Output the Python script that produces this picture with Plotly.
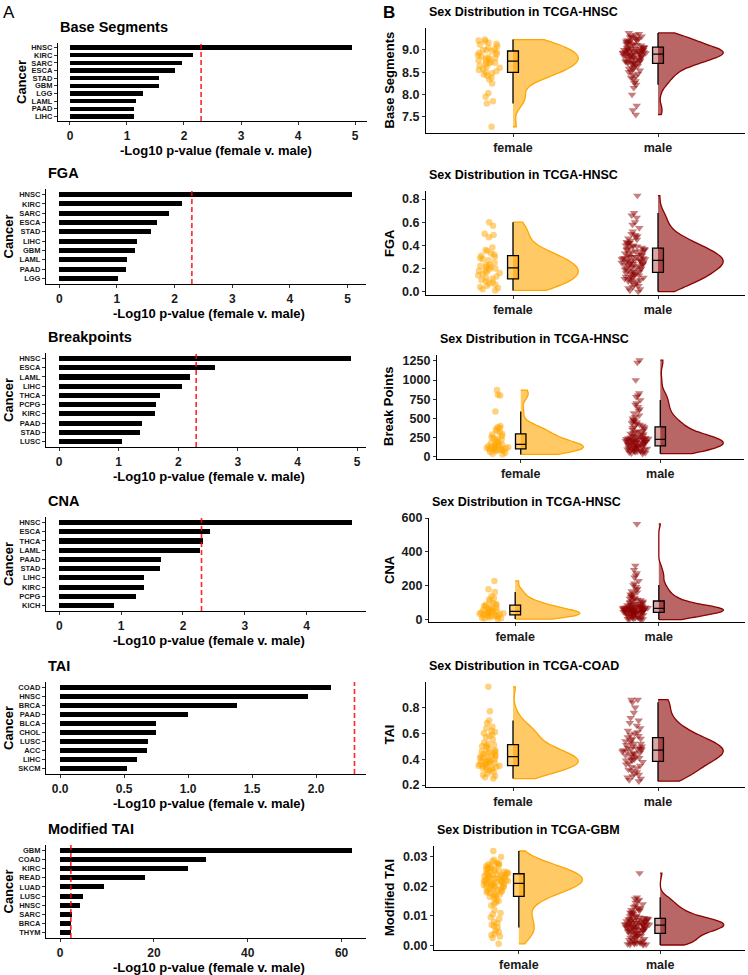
import plotly.graph_objects as go
from plotly.subplots import make_subplots

W, H = 748, 975
THRESHOLD = 2.3
FONT = "Liberation Sans"

# ---- Panel A data: -log10 p-values (female v. male) ----
BS_CANCER = ["HNSC", "KIRC", "SARC", "ESCA", "STAD", "GBM", "LGG", "LAML", "PAAD", "LIHC"]
BS_LOGP = [4.95, 2.16, 1.96, 1.84, 1.56, 1.56, 1.28, 1.15, 1.12, 1.12]

FGA_CANCER = ["HNSC", "KIRC", "SARC", "ESCA", "STAD", "LIHC", "GBM", "LAML", "PAAD", "LGG"]
FGA_LOGP = [5.07, 2.12, 1.91, 1.70, 1.59, 1.34, 1.32, 1.18, 1.16, 1.01]

BP_CANCER = ["HNSC", "ESCA", "LAML", "LIHC", "THCA", "PCPG", "KIRC", "PAAD", "STAD", "LUSC"]
BP_LOGP = [4.90, 2.62, 2.20, 2.06, 1.70, 1.63, 1.61, 1.39, 1.36, 1.06]

CNA_CANCER = ["HNSC", "ESCA", "THCA", "LAML", "PAAD", "STAD", "LIHC", "KIRC", "PCPG", "KICH"]
CNA_LOGP = [4.74, 2.43, 2.33, 2.27, 1.65, 1.63, 1.37, 1.37, 1.24, 0.89]

TAI_CANCER = ["COAD", "HNSC", "BRCA", "PAAD", "BLCA", "CHOL", "LUSC", "ACC", "LIHC", "SKCM"]
TAI_LOGP = [2.12, 1.94, 1.38, 1.00, 0.75, 0.75, 0.69, 0.68, 0.60, 0.52]

MTAI_CANCER = ["GBM", "COAD", "KIRC", "READ", "LUAD", "LUSC", "HNSC", "SARC", "BRCA", "THYM"]
MTAI_LOGP = [62.2, 31.2, 27.3, 18.1, 9.4, 4.9, 4.3, 2.6, 2.4, 2.3]

# ---- Panel B data: per-sample values by sex ----
SEX = ["female", "male"]

BS_F = [9.23, 9.21, 9.19, 9.16, 9.14, 9.12, 9.08, 9.05, 9.02, 9.0, 8.99, 8.97, 8.95, 8.93,
        8.9, 8.88, 8.86, 8.84, 8.82, 8.8, 8.79, 8.77, 8.75, 8.73, 8.71, 8.7, 8.68, 8.65,
        8.62, 8.6, 8.57, 8.55, 8.52, 8.5, 8.48, 8.45, 8.42, 8.38, 8.34, 8.25, 8.03, 7.95,
        7.85, 7.8, 7.28]
BS_M = [9.38, 9.36, 9.34, 9.32, 9.3, 9.29, 9.28, 9.26, 9.25, 9.24, 9.22, 9.21, 9.2, 9.19,
        9.18, 9.17, 9.15, 9.14, 9.13, 9.12, 9.11, 9.1, 9.08, 9.07, 9.06,
        9.05, 9.04, 9.04, 9.03, 9.02, 9.02, 9.01, 9.0, 9.0, 8.99, 8.99, 8.98, 8.97, 8.97,
        8.96, 8.96, 8.95, 8.94, 8.94, 8.93, 8.93, 8.92, 8.92, 8.91, 8.9,
        8.9, 8.89, 8.88, 8.88, 8.87, 8.86, 8.85, 8.85, 8.84, 8.83, 8.82, 8.81, 8.8, 8.79,
        8.78, 8.77, 8.76, 8.75, 8.74, 8.73, 8.72, 8.72, 8.71, 8.7, 8.7,
        8.68, 8.66, 8.64, 8.62, 8.6, 8.58, 8.56, 8.54, 8.52, 8.5, 8.47, 8.44, 8.41, 8.38,
        8.35, 8.3, 8.26, 8.22, 8.15, 8.0, 7.75, 7.65, 7.55]

FGA_F = [0.60, 0.57, 0.50, 0.49, 0.47, 0.38, 0.36, 0.35, 0.33, 0.32, 0.31, 0.30, 0.29, 0.28,
         0.27, 0.25, 0.23, 0.23, 0.22, 0.21, 0.21, 0.20, 0.19, 0.18, 0.18, 0.17, 0.16, 0.15,
         0.14, 0.13, 0.12, 0.11, 0.10, 0.09, 0.08, 0.07, 0.06, 0.05, 0.04, 0.03, 0.02, 0.01]
FGA_M = [0.83, 0.68, 0.66, 0.64, 0.60, 0.58, 0.55, 0.52, 0.50, 0.49, 0.48, 0.47, 0.46, 0.45,
         0.44, 0.43, 0.42, 0.42, 0.41, 0.40, 0.40, 0.39, 0.39, 0.38, 0.38,
         0.37, 0.37, 0.36, 0.36, 0.35, 0.35, 0.34, 0.34, 0.33, 0.33, 0.32, 0.32, 0.31, 0.31,
         0.30, 0.30, 0.30, 0.29, 0.29, 0.29, 0.28, 0.28, 0.28, 0.27, 0.27,
         0.27, 0.26, 0.26, 0.26, 0.25, 0.25, 0.25, 0.24, 0.24, 0.24, 0.23, 0.23, 0.22, 0.22,
         0.22, 0.21, 0.21, 0.20, 0.20, 0.19, 0.19, 0.18, 0.18, 0.17, 0.17,
         0.16, 0.16, 0.15, 0.15, 0.14, 0.14, 0.13, 0.13, 0.12, 0.12, 0.11, 0.11, 0.10, 0.10,
         0.09, 0.09, 0.08, 0.07, 0.06, 0.05, 0.04, 0.03, 0.02, 0.01, 0.0]

BP_F = [870, 810, 800, 590, 400, 385, 375, 360, 340, 320, 300, 290, 270, 255, 245, 235, 225,
        210, 195, 180, 165, 160, 155, 150, 145, 140, 130, 125, 120, 115, 110, 105, 100, 97,
        93, 90, 85, 80, 70, 60, 50, 40, 30]
BP_M = [1260, 1230, 1000, 830, 800, 780, 740, 700, 680, 650, 620, 600, 570, 540, 520, 500,
        480, 470, 460, 450, 440, 430, 420, 405, 395,
        385, 375, 365, 355, 345, 335, 325, 318, 310, 302, 295, 288, 280, 274, 268, 262, 256,
        251, 246, 242, 238, 235, 232, 230, 228,
        225, 222, 219, 216, 213, 210, 207, 204, 201, 198, 195, 192, 189, 186, 183, 180, 176,
        172, 168, 164, 160, 156, 152, 148, 144,
        140, 136, 132, 128, 124, 120, 116, 112, 108, 104, 100, 96, 92, 88, 84, 80, 76, 72,
        68, 64, 60, 55, 50, 45, 40]

CNA_F = [230, 180, 165, 140, 130, 120, 110, 100, 95, 90, 86, 82, 78, 74, 70, 66, 62, 58, 55,
         52, 50, 48, 46, 44, 42, 40, 38, 36, 34, 32, 30, 28, 25, 22, 20, 18, 15, 12, 10, 8, 5]
CNA_M = [565, 320, 295, 275, 262, 250, 230, 215, 205, 195, 185, 178, 170, 163, 157, 150, 145,
         140, 135, 130, 126, 122, 119, 116, 113,
         110, 107, 104, 101, 98, 95, 93, 91, 89, 87, 85, 83, 81, 79, 78, 77, 76, 75, 74, 73,
         72, 71, 70, 69, 69,
         68, 67, 66, 65, 64, 63, 62, 61, 60, 59, 58, 57, 56, 55, 54, 53, 52, 51, 50, 49, 48,
         47, 46, 45, 45,
         44, 43, 42, 41, 40, 38, 36, 34, 32, 30, 28, 26, 24, 22, 20, 18, 16, 14, 12, 10, 8,
         6, 5, 3, 2]

TAI_F = [0.96, 0.77, 0.70, 0.68, 0.65, 0.64, 0.62, 0.61, 0.60, 0.59, 0.58, 0.57, 0.55, 0.53,
         0.52, 0.51, 0.50, 0.50, 0.49, 0.48, 0.47, 0.46, 0.46, 0.45, 0.45, 0.44, 0.44, 0.43,
         0.43, 0.42, 0.42, 0.41, 0.41, 0.40, 0.40, 0.39, 0.39, 0.38, 0.38, 0.38, 0.37, 0.37,
         0.36, 0.36, 0.36, 0.35, 0.35, 0.35, 0.34, 0.34, 0.33, 0.33, 0.32, 0.32, 0.31, 0.30,
         0.29, 0.28, 0.27, 0.26, 0.25]
TAI_M = [0.86, 0.86, 0.84, 0.80, 0.76, 0.72, 0.70, 0.68, 0.66, 0.64, 0.62, 0.61, 0.60, 0.59,
         0.58, 0.57,
         0.56, 0.56, 0.55, 0.54, 0.53, 0.52, 0.52, 0.51, 0.50, 0.50, 0.49, 0.49, 0.48, 0.48,
         0.48, 0.47,
         0.47, 0.46, 0.46, 0.45, 0.45, 0.44, 0.44, 0.43, 0.42, 0.42, 0.41, 0.40, 0.40, 0.39,
         0.39, 0.38,
         0.37, 0.36, 0.35, 0.34, 0.33, 0.32, 0.31, 0.30, 0.29, 0.28, 0.27, 0.26, 0.25, 0.24,
         0.23]

MTAI_F = [0.032, 0.030, 0.029, 0.0285, 0.028, 0.0278, 0.0275, 0.027, 0.0268, 0.0265, 0.026,
          0.0258, 0.0255, 0.0252, 0.025, 0.0248, 0.0246, 0.0244, 0.0242, 0.024, 0.0238, 0.0235,
          0.0232, 0.023, 0.0228, 0.0226, 0.0224, 0.0222, 0.022, 0.0218, 0.0216, 0.0214, 0.0212,
          0.021, 0.0208, 0.0205, 0.0202, 0.02, 0.0198, 0.0195, 0.0192, 0.019, 0.0188, 0.0185,
          0.0182, 0.018, 0.0178, 0.0175, 0.0172, 0.017, 0.0168, 0.0165, 0.016, 0.0155, 0.015,
          0.0145, 0.014, 0.0135,
          0.0276, 0.0272, 0.0262, 0.0256, 0.0249, 0.0243, 0.0239, 0.0236, 0.0233, 0.0229,
          0.0225, 0.0221, 0.0217, 0.0213, 0.0209, 0.0206, 0.0203, 0.0199, 0.0193, 0.0186,
          0.012, 0.011, 0.0105, 0.0095, 0.009, 0.008, 0.0075, 0.007, 0.0065, 0.006, 0.005,
          0.0045, 0.004, 0.0035, 0.003, 0.0025, 0.0005]
MTAI_M = [0.0245, 0.0163, 0.0158, 0.0155, 0.015, 0.0145, 0.014, 0.0135, 0.013, 0.0128, 0.0125,
          0.0122, 0.012, 0.0118, 0.0115, 0.0112, 0.011, 0.0107, 0.0104, 0.0101, 0.0099, 0.0097,
          0.0095, 0.0093, 0.0092,
          0.0091, 0.009, 0.0089, 0.0088, 0.0087, 0.0086, 0.0085, 0.0084, 0.0083, 0.0082, 0.0081,
          0.008, 0.0079, 0.0078, 0.0077, 0.0076, 0.0075, 0.0074, 0.0073, 0.0072, 0.0071, 0.007,
          0.007, 0.0069, 0.0069,
          0.0068, 0.0067, 0.0066, 0.0065, 0.0064, 0.0063, 0.0062, 0.0061, 0.006, 0.0059, 0.0058,
          0.0057, 0.0056, 0.0055, 0.0054, 0.0053, 0.0052, 0.0051, 0.005, 0.0049, 0.0047, 0.0046,
          0.0044, 0.0042, 0.0041,
          0.004, 0.0038, 0.0036, 0.0034, 0.0032, 0.003, 0.0028, 0.0026, 0.0024, 0.0022, 0.002,
          0.0018, 0.0016, 0.0014, 0.0012, 0.001, 0.0009, 0.0008, 0.0007, 0.0006, 0.0005,
          0.0004, 0.0003, 0.0002, 0.0001]

# ---- panel layout (pixel boxes) ----
left = [
    dict(title="Base Segments", cats=BS_CANCER, vals=BS_LOGP, x=(58, 367), y=(43, 121),
         rng=[-0.21, 5.21], dtick=1, fmt=None, ylab_x=21),
    dict(title="FGA", cats=FGA_CANCER, vals=FGA_LOGP, x=(46, 366), y=(189, 284),
         rng=[-0.23, 5.32], dtick=1, fmt=None, ylab_x=8),
    dict(title="Breakpoints", cats=BP_CANCER, vals=BP_LOGP, x=(46, 366), y=(353, 447),
         rng=[-0.22, 5.15], dtick=1, fmt=None, ylab_x=8),
    dict(title="CNA", cats=CNA_CANCER, vals=CNA_LOGP, x=(46, 366), y=(517, 611),
         rng=[-0.215, 4.96], dtick=1, fmt=None, ylab_x=8),
    dict(title="TAI", cats=TAI_CANCER, vals=TAI_LOGP, x=(46, 366), y=(682, 774),
         rng=[-0.11, 2.39], dtick=0.5, fmt=".1f", ylab_x=8),
    dict(title="Modified TAI", cats=MTAI_CANCER, vals=MTAI_LOGP, x=(46, 366), y=(845, 938),
         rng=[-3.0, 65.2], dtick=20, fmt=None, ylab_x=8),
]
right = [
    dict(title="Sex Distribution in TCGA-HNSC", ylab="Base Segments", f=BS_F, m=BS_M,
         x=(426, 745), y=(28, 133), rng=[7.14, 9.49], dtick=0.5, fmt=".1f"),
    dict(title="Sex Distribution in TCGA-HNSC", ylab="FGA", f=FGA_F, m=FGA_M,
         x=(426, 745), y=(191, 295), rng=[-0.03, 0.87], dtick=0.2, fmt=".1f"),
    dict(title="Sex Distribution in TCGA-HNSC", ylab="Break Points", f=BP_F, m=BP_M,
         x=(437, 744), y=(355, 459), rng=[-30, 1328], dtick=250, fmt="d"),
    dict(title="Sex Distribution in TCGA-HNSC", ylab="CNA", f=CNA_F, m=CNA_M,
         x=(429, 745), y=(518, 622), rng=[-12, 600], dtick=200, fmt="d"),
    dict(title="Sex Distribution in TCGA-COAD", ylab="TAI", f=TAI_F, m=TAI_M,
         x=(426, 745), y=(682, 787), rng=[0.185, 0.997], dtick=0.2, fmt=".1f"),
    dict(title="Sex Distribution in TCGA-GBM", ylab="Modified TAI", f=MTAI_F, m=MTAI_M,
         x=(434, 745), y=(846, 950), rng=[-0.0016, 0.0337], dtick=0.01, fmt=".2f"),
]

FEMALE = dict(line="#FFA500", fill="rgba(255,165,0,0.6)", pt="rgba(255,165,0,0.5)",
              box="rgba(255,165,0,0.55)", sym="circle", size=6.5)
MALE = dict(line="#8B0000", fill="rgba(139,0,0,0.6)", pt="rgba(139,0,0,0.5)",
            box="rgba(139,0,0,0.35)", sym="triangle-down", size=7.5)


def xdom(a, b):
    return [a / W, b / W]


def ydom(top, bottom):
    return [1 - bottom / H, 1 - top / H]


fig = make_subplots(rows=6, cols=2)
annotations = []


def txt(x, y, text, size, bold=True, angle=0, xanchor="left"):
    annotations.append(dict(
        x=x / W, y=1 - y / H, xref="paper", yref="paper", text=text, showarrow=False,
        textangle=angle, xanchor=xanchor, yanchor="middle",
        font=dict(family=FONT, size=size, color="black", weight="bold" if bold else "normal")))


axis_common = dict(showline=True, linecolor="black", linewidth=1.2, ticks="outside",
                   ticklen=3, tickcolor="#333333", showgrid=False, zeroline=False,
                   automargin=False)

# Panel A: horizontal bars
for i, p in enumerate(left):
    r = i + 1
    fig.add_trace(go.Bar(x=p["vals"], y=p["cats"], orientation="h", width=0.55,
                         marker=dict(color="black", line_width=0)), row=r, col=1)
    fig.add_vline(x=THRESHOLD, line=dict(color="rgba(255,0,0,0.85)", width=1.6, dash="5px,3px"),
                  row=r, col=1)
    fig.update_xaxes(domain=xdom(*p["x"]), range=p["rng"], dtick=p["dtick"], tick0=0,
                     tickformat=p["fmt"],
                     tickfont=dict(family=FONT, size=12, color="#1a1a1a", weight="bold"),
                     row=r, col=1, **axis_common)
    n = len(p["cats"])
    fig.update_yaxes(domain=ydom(*p["y"]), type="category", categoryorder="array",
                     categoryarray=p["cats"], range=[n - 0.4, -0.6],
                     tickmode="array", tickvals=p["cats"], ticktext=p["cats"],
                     tickfont=dict(family=FONT, size=7.5, color="#1a1a1a", weight="bold"),
                     row=r, col=1, **axis_common)
    txt(p["x"][0], p["y"][0] - 16, p["title"], 14.5)
    txt(p["ylab_x"], (p["y"][0] + p["y"][1]) / 2, "Cancer", 13, angle=-90, xanchor="center")
    txt((p["x"][0] + p["x"][1]) / 2 + 3, p["y"][1] + 29, "-Log10 p-value (female v. male)", 13,
        xanchor="center")

# Panel B: raincloud plots
for i, p in enumerate(right):
    r = i + 1
    for sex, vals, st in [(SEX[0], p["f"], FEMALE), (SEX[1], p["m"], MALE)]:
        fig.add_trace(go.Violin(
            x=[sex] * len(vals), y=vals, side="positive", width=0.9, scalemode="width",
            spanmode="hard", fillcolor=st["fill"], line=dict(color=st["line"], width=1.3),
            points="all", pointpos=-0.36, jitter=0.2,
            marker=dict(symbol=st["sym"], size=st["size"], color=st["pt"], line=dict(width=0)),
            box_visible=False, meanline_visible=False), row=r, col=2)
    for sex, vals, st in [(SEX[0], p["f"], FEMALE), (SEX[1], p["m"], MALE)]:
        fig.add_trace(go.Box(
            x=[sex] * len(vals), y=vals, width=0.075, boxpoints="outliers", whiskerwidth=0,
            marker=dict(opacity=0), fillcolor=st["box"], line=dict(color="black", width=1.3)),
            row=r, col=2)
    fig.update_xaxes(domain=xdom(*p["x"]), type="category", categoryorder="array",
                     categoryarray=SEX, range=[-0.6, 1.6],
                     tickfont=dict(family=FONT, size=12.5, color="#1a1a1a", weight="bold"),
                     row=r, col=2, **axis_common)
    fig.update_yaxes(domain=ydom(*p["y"]), range=p["rng"], dtick=p["dtick"], tick0=0,
                     tickformat=p["fmt"],
                     tickfont=dict(family=FONT, size=12.5, color="#1a1a1a", weight="bold"),
                     row=r, col=2, **axis_common)
    txt(p["x"][0] + 1, p["y"][0] - 16, p["title"], 12.5)
    txt(389, (p["y"][0] + p["y"][1]) / 2, p["ylab"], 13, angle=-90, xanchor="center")

txt(9, 13, "A", 17, bold=False, xanchor="center")
txt(389, 12, "B", 17, xanchor="center")

fig.update_layout(
    width=W, height=H, margin=dict(l=0, r=0, t=0, b=0),
    paper_bgcolor="white", plot_bgcolor="white", showlegend=False,
    boxmode="overlay", violinmode="overlay", bargap=0,
    font=dict(family=FONT, color="black"),
    annotations=annotations,
)

# the page body has a default 8px margin; drop it so the figure sits at the window origin
fig.write_html("out.html", config={"displayModeBar": False},
               post_script="document.body.style.margin='0';")
